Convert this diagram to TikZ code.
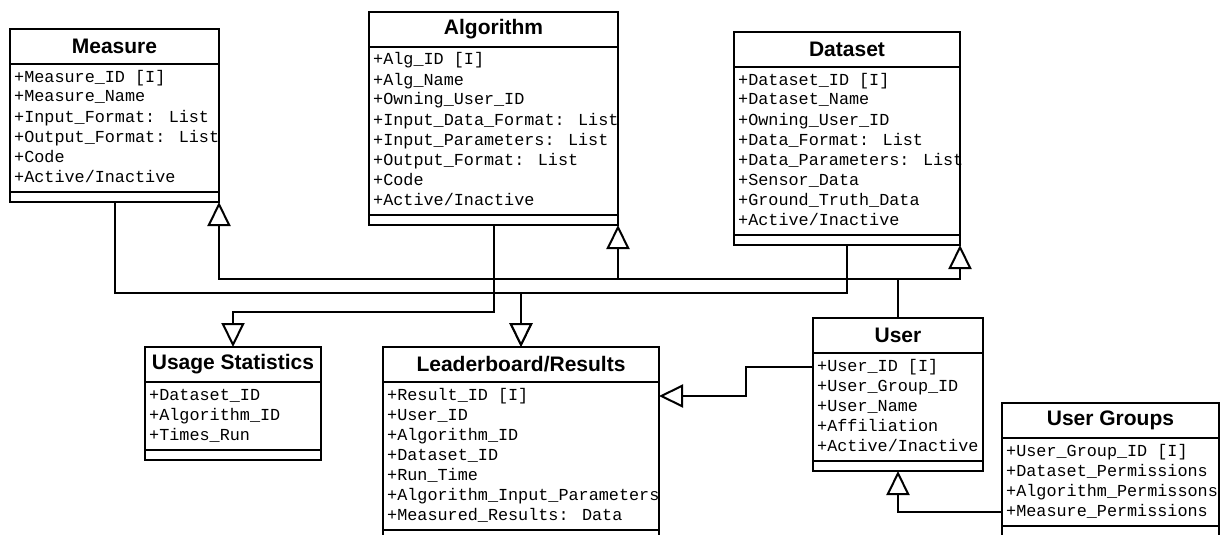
\documentclass[tikz,border=0pt]{standalone}
\usepackage{fontspec}
\setmainfont{Liberation Sans}
\newfontfamily\attrfont{Liberation Mono}
\usetikzlibrary{arrows.meta,calc}

\tikzset{
  classline/.style={line width=2pt, black},
  classtitle/.style={font=\bfseries\fontsize{21}{24}\selectfont, inner sep=0pt},
  classattr/.style={font=\attrfont\fontsize{16.8}{20}\selectfont, inner sep=0pt, anchor=west, text height=12pt, text depth=4pt},
  conn/.style={line width=2pt, line join=miter},
  gen/.style={-{Triangle[open, length=24pt, width=23pt, fill=white]}},
}

% UML class: name, left x, top y, width, number of attributes, title, attributes
\newcommand\umlclass[7]{%
  \node[minimum width=#4, minimum height={53+20*#5}, anchor=north west,
        inner sep=0pt, outer sep=0pt, fill=white] (#1) at (#2,#3) {};
  \node[classtitle] (#1-title) at ($(#1.north)+(0,17.5)$) {#6};
  \foreach \a [count=\i] in {#7} {
    \node[classattr] (#1-\i) at ($(#1.north west)+(4,{49+20*(\i-1)})$) {\a};
  }
  \draw[classline] ($(#1.north west)+(0,35)$) -- ($(#1.north east)+(0,35)$);
  \draw[classline] ($(#1.north west)+(0,{43+20*#5})$) -- ($(#1.north east)+(0,{43+20*#5})$);
  \draw[classline] (#1.north west) rectangle (#1.south east);
}

\begin{document}
\begin{tikzpicture}[x=1pt,y=-1pt]
\useasboundingbox (0,0) rectangle (1227,535);
\fill[white] (0,0) rectangle (1227,535);
\clip (0,0) rectangle (1227,535);

\umlclass{measure}{10}{29}{209}{6}{Measure}{+Measure\_ID [I],+Measure\_Name,+Input\_Format: List,+Output\_Format: List,+Code,+Active/Inactive}
\umlclass{algorithm}{369}{12}{249}{8}{Algorithm}{+Alg\_ID [I],+Alg\_Name,+Owning\_User\_ID,+Input\_Data\_Format: List,+Input\_Parameters: List,+Output\_Format: List,+Code,+Active/Inactive}
\umlclass{dataset}{734}{32}{226}{8}{Dataset}{+Dataset\_ID [I],+Dataset\_Name,+Owning\_User\_ID,+Data\_Format: List,+Data\_Parameters: List,+Sensor\_Data,+Ground\_Truth\_Data,+Active/Inactive}
\umlclass{usage}{145}{347}{176}{3}{Usage Statistics}{+Dataset\_ID,+Algorithm\_ID,+Times\_Run}
\umlclass{leader}{383}{347}{276}{7}{Leaderboard/Results}{+Result\_ID [I],+User\_ID,+Algorithm\_ID,+Dataset\_ID,+Run\_Time,+Algorithm\_Input\_Parameters,+Measured\_Results: Data}
\umlclass{user}{813}{318}{170}{5}{User}{+User\_ID [I],+User\_Group\_ID,+User\_Name,+Affiliation,+Active/Inactive}
\umlclass{groups}{1002}{403}{217}{4}{User Groups}{+User\_Group\_ID [I],+Dataset\_Permissions,+Algorithm\_Permissons,+Measure\_Permissions}

% bend points of the connectors
\coordinate (genbus) at (898,279);
\coordinate (resbus) at (521,293);
\coordinate (statturn) at (300,312);
\coordinate (userstep) at (746,380);

% User generalises Measure, Algorithm and Dataset
\draw[conn] (user.north) -- (genbus);
\draw[conn,gen] (genbus) -| (measure.south east);
\draw[conn,gen] (genbus) -| (algorithm.south east);
\draw[conn,gen] (genbus) -| (dataset.south east);

% Measure and Dataset to Leaderboard/Results
\draw[conn,gen] (measure.south) |- (resbus) -- (leader.north);
\draw[conn,gen] (dataset.south) |- (resbus) -- (leader.north);

% Algorithm to Usage Statistics
\draw[conn,gen] (algorithm.south) |- (statturn) -| (usage.north);

% User to Leaderboard/Results
\draw[conn,gen] (user.west |- user-1) -| (userstep) |- (leader.east |- leader-1);

% User Groups to User
\draw[conn,gen] (groups.west |- groups-4) -| (user.south);
\end{tikzpicture}
\end{document}
